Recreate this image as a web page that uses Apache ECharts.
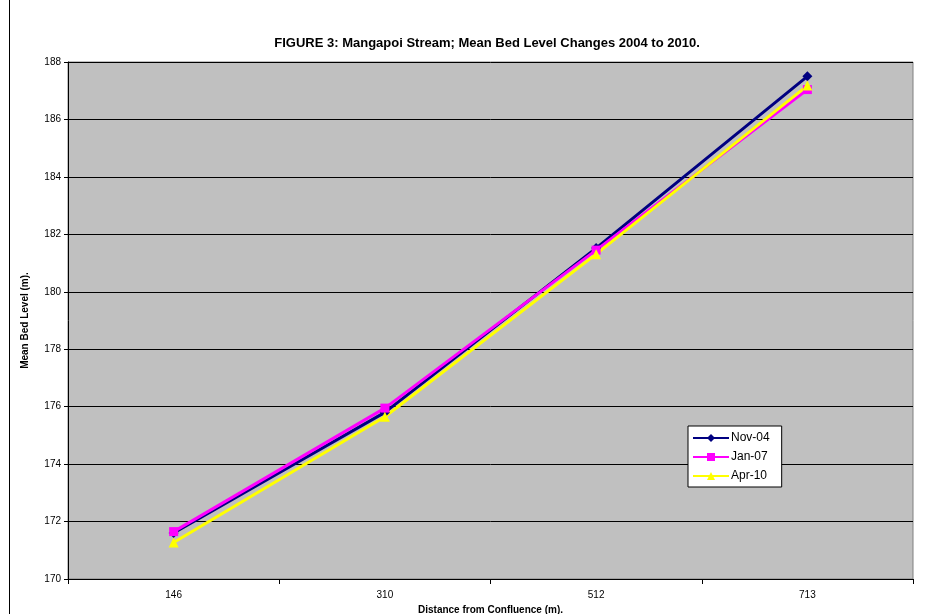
<!DOCTYPE html>
<html>
<head>
<meta charset="utf-8">
<script src="https://cdn.jsdelivr.net/npm/echarts@6/dist/echarts.min.js"></script>
<style>
  html, body { margin: 0; padding: 0; background: #fff; }
  #chart { width: 944px; height: 614px; }
</style>
</head>
<body>
<div id="chart"></div>
<script>
// Distances (m) along the stream at which mean bed level was surveyed
const distances = ['146', '310', '512', '713'];

// Mean bed level (m) for each survey
const nov04 = [171.6, 175.8, 181.52, 187.5];
const jan07 = [171.65, 175.95, 181.45, 187.04];
const apr10 = [171.27, 175.65, 181.31, 187.18];

const yMin = 170;
const yMax = 188;
const yStep = 2;

const FONT = '"Liberation Sans", Arial, sans-serif';

const chart = echarts.init(document.getElementById('chart'), null, { renderer: 'canvas' });

function lineSeries(name, data, color, symbol, size) {
  return {
    name: name,
    type: 'line',
    data: data,
    symbol: symbol,
    symbolSize: size,
    showSymbol: true,
    lineStyle: { color: color, width: 3 },
    itemStyle: { color: color },
    emphasis: { disabled: true },
    animation: false
  };
}

chart.setOption({
  animation: false,
  backgroundColor: '#ffffff',
  title: {
    text: 'FIGURE 3: Mangapoi Stream; Mean Bed Level Changes 2004 to 2010.',
    left: 482,
    textAlign: 'center',
    top: 32,
    textStyle: { fontFamily: FONT, fontSize: 13, fontWeight: 'bold', color: '#000' }
  },
  grid: {
    left: 68, right: 31, top: 62, bottom: 35,
    outerBoundsMode: 'none',
    containLabel: false,
    show: true,
    backgroundColor: '#c0c0c0',
    borderColor: '#808080',
    borderWidth: 1
  },
  legend: {
    orient: 'vertical',
    left: 688,
    top: 426,
    itemWidth: 36,
    itemHeight: 10,
    itemGap: 7,
    padding: [6, 12, 5, 4],
    backgroundColor: '#ffffff',
    borderColor: '#000',
    borderWidth: 1,
    borderRadius: 0,
    textStyle: { fontFamily: FONT, fontSize: 12, color: '#000', padding: [0, 0, 0, -3] },
    data: ['Nov-04', 'Jan-07', 'Apr-10']
  },
  xAxis: {
    type: 'category',
    data: distances,
    boundaryGap: true,
    name: 'Distance from Confluence (m).',
    nameLocation: 'middle',
    nameGap: 25,
    nameTextStyle: { fontFamily: FONT, fontSize: 10, fontWeight: 'bold', color: '#000' },
    axisLine: { lineStyle: { color: '#000', width: 1 } },
    axisTick: { show: true, alignWithLabel: false, length: 5, lineStyle: { color: '#000' } },
    axisLabel: { fontFamily: FONT, fontSize: 10, color: '#000', margin: 11 },
    splitLine: { show: false }
  },
  yAxis: {
    type: 'value',
    min: yMin,
    max: yMax,
    interval: yStep,
    name: 'Mean Bed Level (m).',
    nameLocation: 'middle',
    nameGap: 38,
    nameTextStyle: { fontFamily: FONT, fontSize: 10, fontWeight: 'bold', color: '#000' },
    axisLine: { show: true, lineStyle: { color: '#000', width: 1 } },
    axisTick: { show: true, inside: false, length: 4, lineStyle: { color: '#000' } },
    axisLabel: { fontFamily: FONT, fontSize: 10, color: '#000', margin: 7 },
    splitLine: { show: true, lineStyle: { color: '#000', width: 1 } }
  },
  graphic: [
    {
      type: 'line',
      shape: { x1: 9.5, y1: 0, x2: 9.5, y2: 614 },
      style: { stroke: '#000', lineWidth: 1 },
      silent: true
    }
  ],
  series: [
    lineSeries('Nov-04', nov04, '#000080', 'diamond', 10),
    lineSeries('Jan-07', jan07, '#ff00ff', 'rect', 9),
    lineSeries('Apr-10', apr10, '#ffff00', 'triangle', 10)
  ]
});
</script>
</body>
</html>
